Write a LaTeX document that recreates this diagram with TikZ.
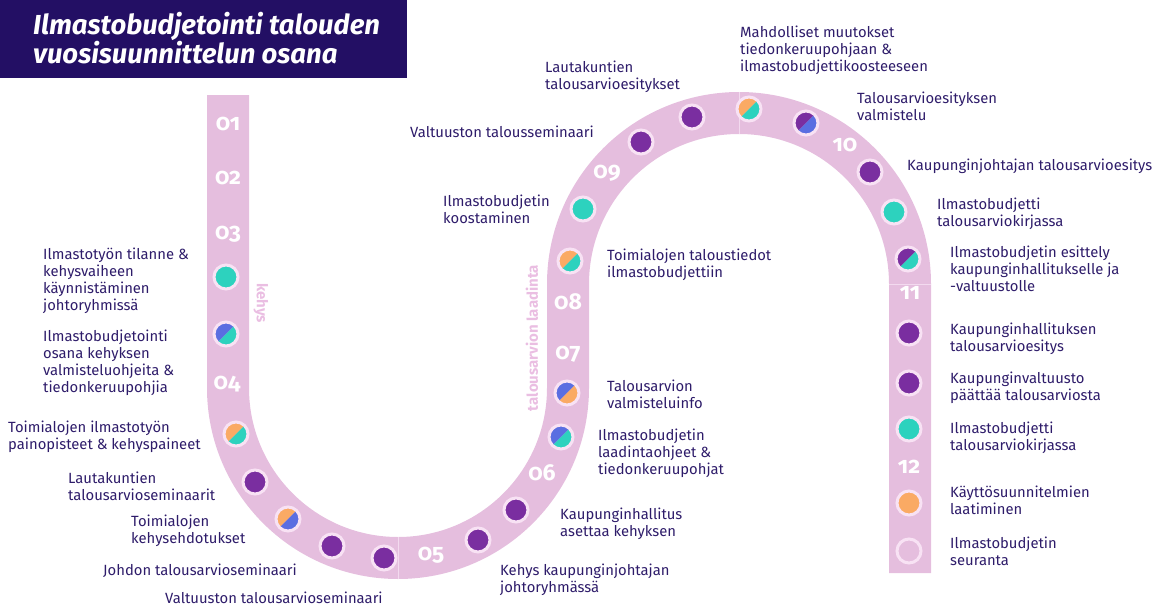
\documentclass[tikz,border=0pt]{standalone}
\usepackage{fontspec}
\setmainfont{Fira Sans}
\newfontfamily\numfont[Numbers=OldStyle]{Fira Sans}
\usepackage{xcolor}
\usepackage{tikz}
\usetikzlibrary{positioning}
\definecolor{trackpink}{RGB}{229,190,222}
\definecolor{ringpink}{RGB}{248,226,244}
\definecolor{divpink}{RGB}{243,218,239}
\definecolor{sidepink}{RGB}{234,190,226}
\definecolor{titlenavy}{RGB}{35,15,100}
\definecolor{textnavy}{RGB}{46,28,106}
\definecolor{dotpurple}{RGB}{122,46,160}
\definecolor{dotteal}{RGB}{45,210,190}
\definecolor{dotblue}{RGB}{90,110,225}
\definecolor{dotorange}{RGB}{250,170,100}

\begin{document}
\begin{tikzpicture}[
    x=1pt, y=-1pt,
    lbl/.style={anchor=north west, inner sep=0pt, align=left, text=textnavy,
                font=\fontsize{14.8}{16.8}\selectfont},
    monthnum/.style={text=white, inner sep=0pt, font=\numfont\bfseries\fontsize{23}{23}\selectfont},
    sidelbl/.style={text=sidepink, inner sep=0pt, font=\bfseries\fontsize{15}{15}\selectfont},
    dotring/.style={circle, draw=ringpink, line width=3pt, minimum size=24pt, inner sep=0pt},
    fulldot/.style={dotring, fill=#1},
    emptydot/.style={dotring, fill=trackpink},
    halfdot/.style 2 args={dotring, path picture={
        \fill[#1] (path picture bounding box.south west) -- (path picture bounding box.north west)
                  -- (path picture bounding box.north east) -- cycle;
        \fill[#2] (path picture bounding box.south west) -- (path picture bounding box.south east)
                  -- (path picture bounding box.north east) -- cycle;}}
]
    \useasboundingbox (0,0) rectangle (1159,610);

    % track
    \draw[trackpink, line width=42pt] (228,95) -- (228,388)
        arc[start angle=180, end angle=0, radius=170] -- (568,284)
        arc[start angle=180, end angle=360, radius=171] -- (910,573);
    \draw[divpink, line width=1pt] (398,537) -- (398,579);
    \draw[divpink, line width=1pt] (739,92) -- (739,134);
    \draw[divpink, line width=1pt] (889,284) -- (931,284);

    % title
    \node[fill=titlenavy, minimum width=407pt, minimum height=78pt, inner sep=0pt,
          anchor=north west] (title) at (0,0) {};
    \node[anchor=west, inner sep=0pt, align=left, text=white,
          font=\bfseries\itshape\fontsize{27.5}{29.5}\selectfont]
          (titletxt) at ([xshift=33pt, yshift=1pt]title.west) {Ilmastobudjetointi talouden\\vuosisuunnittelun osana};

    % months
    \node[monthnum] (n01) at (228,124) {01};
    \node[monthnum] (n02) at (228,178) {02};
    \node[monthnum] (n03) at (228,234) {03};
    \node[monthnum] (n04) at (227,384) {04};
    \node[monthnum] (n05) at (431,555) {05};
    \node[monthnum] (n06) at (542,473) {06};
    \node[monthnum] (n07) at (568,354) {07};
    \node[monthnum] (n08) at (568,302) {08};
    \node[monthnum] (n09) at (607,173) {09};
    \node[monthnum] (n10) at (845,145) {10};
    \node[monthnum] (n11) at (910,293) {11};
    \node[monthnum] (n12) at (909,467) {12};

    \node[sidelbl, rotate=-90] (kehys) at (261,303) {kehys};
    \node[sidelbl, rotate=90] (laadinta) at (532,338) {talousarvion laadinta};

    % dots
    \node[fulldot=dotteal] (d01) at (226,277) {};
    \node[halfdot={dotblue}{dotteal}] (d02) at (226,334) {};
    \node[halfdot={dotorange}{dotteal}] (d03) at (236,434) {};
    \node[fulldot=dotpurple] (d04) at (255,482) {};
    \node[halfdot={dotorange}{dotblue}] (d05) at (288,519) {};
    \node[fulldot=dotpurple] (d06) at (332,546) {};
    \node[fulldot=dotpurple] (d07) at (384,558) {};
    \node[fulldot=dotpurple] (d08) at (478,540) {};
    \node[fulldot=dotpurple] (d09) at (516,510) {};
    \node[halfdot={dotblue}{dotteal}] (d10) at (561,437) {};
    \node[halfdot={dotblue}{dotorange}] (d11) at (567,393) {};
    \node[halfdot={dotorange}{dotteal}] (d12) at (570,261) {};
    \node[fulldot=dotteal] (d13) at (583,209) {};
    \node[fulldot=dotpurple] (d14) at (641,142) {};
    \node[fulldot=dotpurple] (d15) at (692,117) {};
    \node[halfdot={dotorange}{dotteal}] (d16) at (749,109) {};
    \node[halfdot={dotpurple}{dotblue}] (d17) at (806,123) {};
    \node[fulldot=dotpurple] (d18) at (870,172) {};
    \node[fulldot=dotteal] (d19) at (894,212) {};
    \node[halfdot={dotpurple}{dotteal}] (d20) at (908,259) {};
    \node[fulldot=dotpurple] (d21) at (909,333) {};
    \node[fulldot=dotpurple] (d22) at (909,383) {};
    \node[fulldot=dotteal] (d23) at (909,429) {};
    \node[fulldot=dotorange] (d24) at (909,503) {};
    \node[emptydot] (d25) at (909,551) {};

    % labels
    \node[lbl] (l01) at (43,248) {Ilmastotyön tilanne \&\\kehysvaiheen\\käynnistäminen\\johtoryhmissä};
    \node[lbl] (l02) at (43,330) {Ilmastobudjetointi\\osana kehyksen\\valmisteluohjeita \&\\tiedonkeruupohjia};
    \node[lbl] (l03) at (8,421) {Toimialojen ilmastotyön\\painopisteet \& kehyspaineet};
    \node[lbl] (l04) at (68,472) {Lautakuntien\\talousarvioseminaarit};
    \node[lbl] (l05) at (131,515) {Toimialojen\\kehysehdotukset};
    \node[lbl] (l06) at (103,564) {Johdon talousarvioseminaari};
    \node[lbl] (l07) at (165,592) {Valtuuston talousarvioseminaari};
    \node[lbl] (l08) at (500,564) {Kehys kaupunginjohtajan\\johtoryhmässä};
    \node[lbl] (l09) at (560,508) {Kaupunginhallitus\\asettaa kehyksen};
    \node[lbl] (l10) at (598,429) {Ilmastobudjetin\\laadintaohjeet \&\\tiedonkeruupohjat};
    \node[lbl] (l11) at (607,380) {Talousarvion\\valmisteluinfo};
    \node[lbl] (l12) at (607,249) {Toimialojen taloustiedot\\ilmastobudjettiin};
    \node[lbl] (l13) at (443,195) {Ilmastobudjetin\\koostaminen};
    \node[lbl] (l14) at (410,126) {Valtuuston talousseminaari};
    \node[lbl] (l15) at (545,61) {Lautakuntien\\talousarvioesitykset};
    \node[lbl] (l16) at (740,26) {Mahdolliset muutokset\\tiedonkeruupohjaan \&\\ilmastobudjettikoosteeseen};
    \node[lbl] (l17) at (857,92) {Talousarvioesityksen\\valmistelu};
    \node[lbl] (l18) at (907,159) {Kaupunginjohtajan talousarvioesitys};
    \node[lbl] (l19) at (937,198) {Ilmastobudjetti\\talousarviokirjassa};
    \node[lbl] (l20) at (950,246) {Ilmastobudjetin esittely\\kaupunginhallitukselle ja\\-valtuustolle};
    \node[lbl] (l21) at (950,323) {Kaupunginhallituksen\\talousarvioesitys};
    \node[lbl] (l22) at (950,372) {Kaupunginvaltuusto\\päättää talousarviosta};
    \node[lbl] (l23) at (950,422) {Ilmastobudjetti\\talousarviokirjassa};
    \node[lbl] (l24) at (950,486) {Käyttösuunnitelmien\\laatiminen};
    \node[lbl] (l25) at (950,537) {Ilmastobudjetin\\seuranta};
\end{tikzpicture}
\end{document}
